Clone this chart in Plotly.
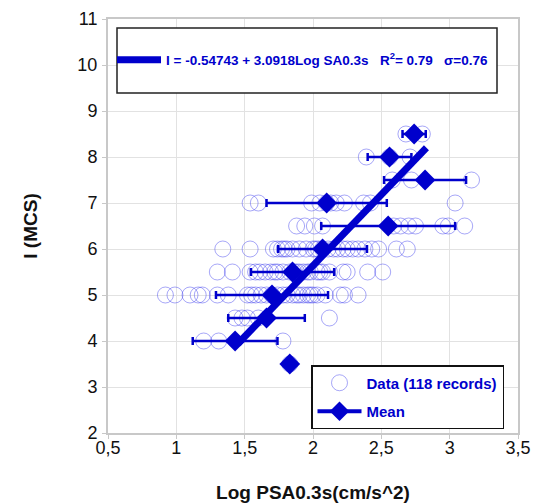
import plotly.graph_objects as go

# ---- data ----
row_levels = [3.5, 4.0, 4.5, 5.0, 5.5, 6.0, 6.5, 7.0, 7.5, 8.0, 8.5]
x_i35 = [1.83]
x_i40 = [1.20, 1.31, 1.78]
x_i45 = [1.43, 1.48, 1.52, 1.60, 2.12]
x_i50 = [0.92, 0.99, 1.10, 1.16, 1.19, 1.30, 1.38, 1.52, 1.55, 1.58, 1.62, 1.66, 1.70, 1.74,
         1.78, 1.81, 1.85, 1.88, 1.90, 1.93, 1.96, 1.98, 2.00, 2.03, 2.09, 2.20, 2.23, 2.33]
x_i55 = [1.30, 1.41, 1.54, 1.58, 1.61, 1.65, 1.69, 1.72, 1.74, 1.78, 1.83, 1.86, 1.88, 1.90,
         1.93, 1.96, 1.98, 2.03, 2.05, 2.07, 2.12, 2.22, 2.25, 2.40, 2.51]
x_i60 = [1.34, 1.54, 1.71, 1.74, 1.77, 1.79, 1.81, 1.85, 1.90, 1.95, 2.00, 2.02, 2.04, 2.07,
         2.11, 2.15, 2.18, 2.22, 2.25, 2.29, 2.33, 2.38, 2.43, 2.48, 2.61, 2.69]
x_i65 = [1.88, 1.94, 2.01, 2.07, 2.59, 2.64, 2.70, 2.75, 2.95, 2.99, 3.11]
x_i70 = [1.54, 1.60, 1.99, 2.05, 2.10, 2.13, 2.17, 2.23, 2.37, 2.42, 3.04]
x_i75 = [2.58, 2.72, 3.16]
x_i80 = [2.39, 2.56, 2.71]
x_i85 = [2.68, 2.80]
rows_x = [x_i35, x_i40, x_i45, x_i50, x_i55, x_i60, x_i65, x_i70, x_i75, x_i80, x_i85]

mean_x = [1.83, 1.43, 1.66, 1.70, 1.85, 2.07, 2.55, 2.10, 2.82, 2.56, 2.74]
mean_err = [0.0, 0.31, 0.28, 0.41, 0.305, 0.325, 0.49, 0.44, 0.30, 0.16, 0.085]

reg_x = [1.45, 2.83]
reg_y = [3.94, 8.20]

x_ticks = [0.5, 1.0, 1.5, 2.0, 2.5, 3.0, 3.5]
y_ticks = [2, 3, 4, 5, 6, 7, 8, 9, 10, 11]

data_x, data_y = [], []
for lvl, xs in zip(row_levels, rows_x):
    data_x += xs
    data_y += [lvl] * len(xs)

BLUE = "#0000cc"
FONT = "Liberation Sans, Arial, sans-serif"

fig = go.Figure()
fig.add_trace(go.Scatter(
    x=data_x, y=data_y, mode="markers", name="Data (118 records)",
    marker=dict(symbol="circle-open", size=16, color="rgba(80,80,240,0.5)", line=dict(width=1)),
    legend="legend2", legendgroup="a", legendrank=1))
fig.add_trace(go.Scatter(
    x=reg_x, y=reg_y, mode="lines",
    name="I = -0.54743 + 3.0918Log SA0.3s\u00a0\u00a0\u00a0R<sup>2</sup>= 0.79\u00a0\u00a0\u00a0σ=0.76",
    line=dict(color=BLUE, width=7), legend="legend"))
fig.add_trace(go.Scatter(
    x=mean_x, y=row_levels, mode="markers", showlegend=False,
    marker=dict(symbol="diamond", size=16, color=BLUE),
    error_x=dict(type="data", array=mean_err, color=BLUE, thickness=2.5, width=4)))
fig.add_trace(go.Scatter(
    x=[None], y=[None], mode="lines+markers", name="Mean",
    line=dict(color=BLUE, width=4), marker=dict(symbol="diamond", size=15, color=BLUE),
    legend="legend2", legendgroup="b", legendrank=2))

L, R, T, B = 108, 19, 19, 70
W, H = 537, 503
pw, ph = W - L - R, H - T - B

def px2x(p):
    return (p - L) / pw

def py2y(p):
    return (H - B - p) / ph

fig.add_shape(type="rect", xref="paper", yref="paper",
              x0=px2x(117), x1=px2x(497), y0=py2y(93), y1=py2y(28),
              line=dict(color="#222", width=1.5), fillcolor="white", layer="above")

axis_common = dict(showgrid=True, gridcolor="#e2e2e2", gridwidth=1, zeroline=False,
                   showline=True, mirror=True, linecolor="#c8c8c8", linewidth=2,
                   ticks="outside", ticklen=4, tickcolor="#c8c8c8", automargin=False,
                   tickfont=dict(family=FONT, size=18, color="#111"))

fig.update_layout(
    width=W, height=H, margin=dict(l=L, r=R, t=T, b=B),
    paper_bgcolor="white", plot_bgcolor="white", separators=", ",
    xaxis=dict(range=[0.5, 3.5], tickvals=x_ticks, ticklabelstandoff=-7,
               title=dict(text="Log PSA0.3s(cm/s^2)", standoff=29,
                          font=dict(family=FONT, size=19, color="#111", weight="bold")),
               **axis_common),
    yaxis=dict(range=[2, 11], tickvals=y_ticks, ticklabelstandoff=1,
               title=dict(text="I (MCS)", standoff=35,
                          font=dict(family=FONT, size=19, color="#111", weight="bold")),
               **axis_common),
    legend=dict(x=px2x(112), y=py2y(60), xanchor="left", yanchor="middle",
                bgcolor="rgba(0,0,0,0)", borderwidth=0, itemwidth=44,
                font=dict(family=FONT, size=13.5, color=BLUE, weight="bold")),
    legend2=dict(x=px2x(311), y=py2y(365), xanchor="left", yanchor="top",
                 bgcolor="white", bordercolor="#111", borderwidth=1.5, itemwidth=44,
                 tracegroupgap=6,
                 font=dict(family=FONT, size=15, color=BLUE, weight="bold")),
    showlegend=True,
)

fig.write_html("out.html")
